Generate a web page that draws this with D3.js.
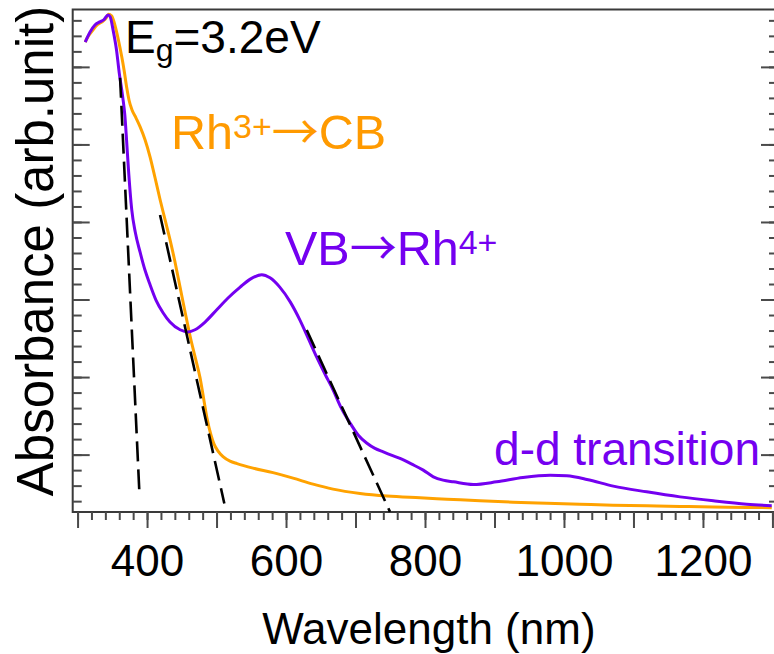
<!DOCTYPE html>
<html><head><meta charset="utf-8">
<script src="https://cdn.jsdelivr.net/npm/d3@7"></script>
<style>
body{margin:0;background:#fff}
svg{display:block}
text{font-family:"Liberation Sans",Arial,Helvetica,sans-serif}
</style>
</head><body>
<svg id="chart" width="774" height="654"></svg>
<script>
// ---- data (arb. units) ----
const purpleWavelength = [311,318,325,332,338,344,347,351,356,360,365,368,370.5,373,378,383,390,397,404,413,423,433,447.5,459,469,483.5,500,516.5,534,548,565,577,591,606,620,632,644,656,668,679,692,704,716,728,740,752.5,764,781,797.5,812,826,841,869.5,903,941,980,1004,1033,1071,1119,1167,1215,1263,1299];
const purpleAbsorbance = [6.32,6.45,6.54,6.58,6.61,6.67,6.645,6.48,6.22,5.92,5.61,5.38,5.06,4.71,4.155,3.87,3.61,3.38,3.20,2.99,2.83,2.71,2.61,2.58,2.61,2.71,2.865,3.02,3.16,3.26,3.32,3.28,3.16,2.97,2.735,2.50,2.26,2.04,1.83,1.61,1.41,1.25,1.15,1.08,1.035,0.99,0.951,0.877,0.80,0.714,0.671,0.649,0.615,0.649,0.706,0.735,0.726,0.68,0.594,0.52,0.455,0.404,0.361,0.342];

const orangeWavelength = [311,313.7,320.9,328.1,336.7,341,344.6,348.9,352.5,355.4,358.7,363.6,366.9,370.8,374.1,378.4,384.2,389.9,397.1,404.3,411.5,418.7,425.9,433.1,440.3,447.5,454.7,461.9,469.1,476.3,481.3,486.3,492.1,496.4,502.2,509.3,519.4,529.5,552.5,581.3,610.1,638.9,667.6,706.5,745.3,792.8,831.6,879.1,926.6,975.5,1023,1070.4,1119.4,1166.9,1214.4,1263.3,1299];
const orangeAbsorbance = [6.32,6.37,6.46,6.54,6.59,6.63,6.68,6.66,6.58,6.48,6.35,6.13,5.96,5.73,5.57,5.445,5.34,5.23,5.06,4.84,4.57,4.29,4.03,3.77,3.48,3.16,2.84,2.53,2.26,1.99,1.73,1.47,1.25,1.135,1.045,0.974,0.916,0.884,0.826,0.768,0.697,0.619,0.555,0.499,0.465,0.443,0.426,0.404,0.387,0.374,0.361,0.348,0.339,0.332,0.326,0.319,0.316];

// tangent (extrapolation) lines
const tangentStartWavelength = [361.2, 418.7, 629.8];
const tangentStartAbsorbance = [5.86, 4.09, 2.606];
const tangentEndWavelength   = [389.2, 511.2, 749.6];
const tangentEndAbsorbance   = [0.465, 0.37, 0.262];

// axis ticks / labels
const xMinorTicks = d3.range(300, 1301, 20);
const xMajorTicks = d3.range(300, 1301, 100);
const xTickLabels = [400, 600, 800, 1000, 1200];
const yMinorTicks = d3.range(4, 67, 2).map(d => d / 10);
const yMajorTicks = [1, 2, 3, 4, 5, 6];
const xTitle = "Wavelength (nm)";
const yTitle = "Absorbance (arb.unit)";

// ---- drawing ----
const ORANGE = "#FFA200", ORANGE_TXT = "#FF9A00", PURPLE = "#7400F0";
const ARROW_FONT = "'Noto Sans CJK JP','Noto Sans CJK SC','DejaVu Sans',sans-serif";
const svg = d3.select("#chart");
const L = 72.7, R = 778, T = 9.5, B = 512;
const x = d3.scaleLinear().domain([293, 1308]).range([L, R]);
const y = d3.scaleLinear().domain([0.26, 6.74]).range([B, T]);

// frame
svg.append("rect").attr("x", L).attr("y", T).attr("width", R - L).attr("height", B - T)
  .attr("fill", "none").attr("stroke", "#3a3a3a").attr("stroke-width", 2);

function styleAxis(g) {
  g.select(".domain").remove();
  g.selectAll(".tick line").attr("stroke", "#4a4a4a").attr("stroke-width", 2);
}
// bottom ticks (outward)
svg.append("g").attr("transform", `translate(0,${B})`)
  .call(d3.axisBottom(x).tickValues(xMinorTicks).tickSize(8).tickFormat(""))
  .call(styleAxis);
svg.append("g").attr("transform", `translate(0,${B})`)
  .call(d3.axisBottom(x).tickValues(xMajorTicks).tickSize(16).tickFormat(""))
  .call(styleAxis);
// left ticks (inward)
svg.append("g").attr("transform", `translate(${L},0)`)
  .call(d3.axisRight(y).tickValues(yMinorTicks).tickSize(9).tickFormat(""))
  .call(styleAxis);
svg.append("g").attr("transform", `translate(${L},0)`)
  .call(d3.axisRight(y).tickValues(yMajorTicks).tickSize(17).tickFormat(""))
  .call(styleAxis);
// right ticks (inward)
svg.append("g").attr("transform", `translate(${R},0)`)
  .call(d3.axisLeft(y).tickValues(yMinorTicks).tickSize(9).tickFormat(""))
  .call(styleAxis);
svg.append("g").attr("transform", `translate(${R},0)`)
  .call(d3.axisLeft(y).tickValues(yMajorTicks).tickSize(17).tickFormat(""))
  .call(styleAxis);

// tick labels
const lab = svg.append("g").attr("transform", `translate(0,${B})`)
  .call(d3.axisBottom(x).tickValues(xTickLabels).tickSize(0).tickPadding(33).tickFormat(d3.format("d")));
lab.select(".domain").remove();
lab.selectAll("text").attr("font-size", 44).attr("fill", "#000")
  .attr("font-family", "'Liberation Sans',Arial,sans-serif");

// axis titles
svg.append("text").attr("x", (L + 773) / 2 + 6).attr("y", 644).attr("text-anchor", "middle")
  .attr("font-size", 44).attr("fill", "#000").text(xTitle);
svg.append("text").attr("transform", "translate(53,251) rotate(-90)").attr("text-anchor", "middle")
  .attr("font-size", 51).attr("fill", "#000").text(yTitle);

// curves
const line = d3.line().x(d => x(d[0])).y(d => y(d[1])).curve(d3.curveMonotoneX);
svg.append("path").datum(d3.zip(orangeWavelength, orangeAbsorbance))
  .attr("d", line).attr("fill", "none").attr("stroke", ORANGE).attr("stroke-width", 3);
svg.append("path").datum(d3.zip(purpleWavelength, purpleAbsorbance))
  .attr("d", line).attr("fill", "none").attr("stroke", PURPLE).attr("stroke-width", 3);

// tangents
tangentStartWavelength.forEach((w, i) => {
  svg.append("line")
    .attr("x1", x(w)).attr("y1", y(tangentStartAbsorbance[i]))
    .attr("x2", x(tangentEndWavelength[i])).attr("y2", y(tangentEndAbsorbance[i]))
    .attr("stroke", "#000").attr("stroke-width", 2.6).attr("stroke-dasharray", "20,8");
});

// annotations
const eg = svg.append("text").attr("x", 125).attr("y", 53).attr("font-size", 46).attr("fill", "#000");
eg.append("tspan").text("E");
eg.append("tspan").attr("font-size", 32).attr("dy", 8).text("g");
eg.append("tspan").attr("dy", -8).text("=3.2eV");

const rh = svg.append("text").attr("x", 171).attr("y", 149).attr("font-size", 48.5).attr("fill", ORANGE_TXT);
rh.append("tspan").text("Rh");
rh.append("tspan").attr("font-size", 34).attr("dy", -11).text("3+");
rh.append("tspan").attr("dy", 11).attr("font-family", ARROW_FONT).attr("font-size", 47).text("\u2192");
rh.append("tspan").text("CB");

const vb = svg.append("text").attr("x", 285).attr("y", 265).attr("font-size", 48.5).attr("fill", PURPLE);
vb.append("tspan").text("VB");
vb.append("tspan").attr("font-family", ARROW_FONT).attr("font-size", 47).text("\u2192");
vb.append("tspan").text("Rh");
vb.append("tspan").attr("font-size", 34).attr("dy", -11).text("4+");

svg.append("text").attr("x", 760).attr("y", 465).attr("text-anchor", "end")
  .attr("font-size", 46).attr("fill", PURPLE).text("d-d transition");
</script>
</body></html>
